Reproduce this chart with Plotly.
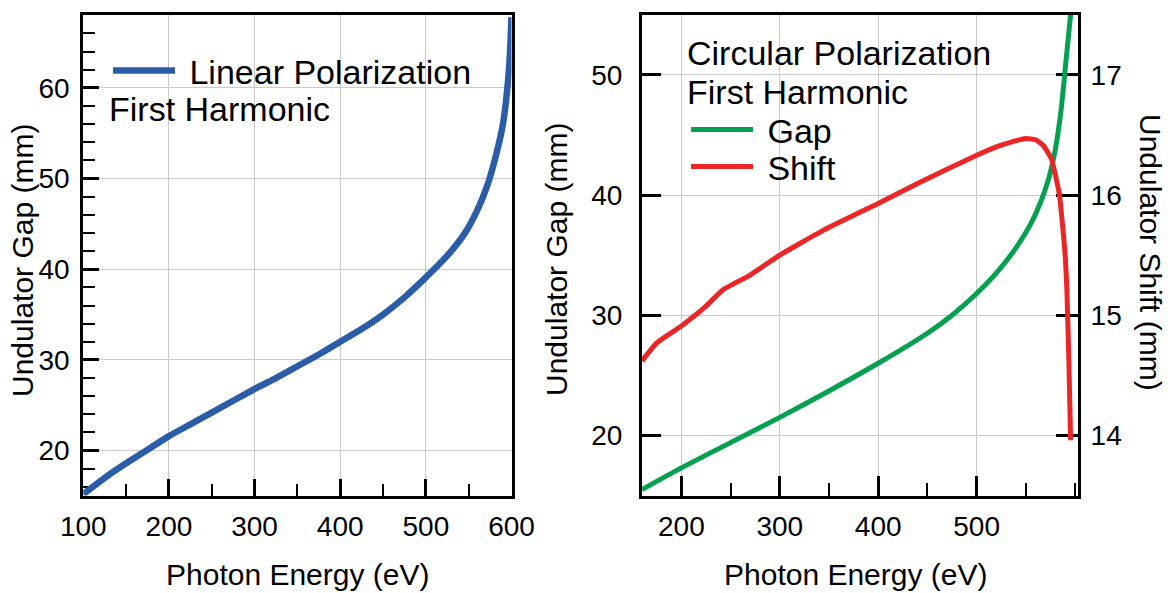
import plotly.graph_objects as go

# ---------------- data ----------------
lin_energy = [100, 125, 150, 175, 200, 225, 250, 275, 300, 325, 350, 375, 400, 425,
              450, 475, 500, 525, 545, 560, 572, 582, 590, 595, 598, 600]
lin_gap = [15.2, 17.0, 18.6, 20.1, 21.6, 22.9, 24.2, 25.5, 26.8, 28.0, 29.3, 30.6,
           32.0, 33.4, 35.0, 36.9, 39.1, 41.5, 43.9, 46.5, 49.3, 52.6, 56.0, 59.8,
           63.5, 67.8]

circ_gap_energy = [160, 200, 250, 300, 350, 400, 450, 475, 500, 520, 540, 555, 565,
                   573, 580, 586, 590, 595.5]
circ_gap = [15.5, 17.3, 19.4, 21.5, 23.7, 26.0, 28.5, 30.0, 31.8, 33.5, 35.6, 37.6,
            39.4, 41.3, 43.8, 47.2, 50.5, 55.0]

circ_shift_energy = [160, 175, 200, 223, 242, 269, 300, 345, 400, 441, 479, 500,
                     520, 535, 550, 560, 568, 576, 584, 589.6, 591.7, 593.6, 595.5]
circ_shift = [14.62, 14.77, 14.91, 15.06, 15.21, 15.33, 15.50, 15.71, 15.93, 16.10,
              16.25, 16.33, 16.40, 16.44, 16.47, 16.46, 16.41, 16.30, 16.01, 15.54,
              15.21, 14.66, 13.96]

x_ticks_left = [100, 200, 300, 400, 500, 600]
x_ticks_right = [200, 300, 400, 500]
gap_ticks_left = [20, 30, 40, 50, 60]
gap_ticks_right = [20, 30, 40, 50]
shift_ticks = [14, 15, 16, 17]

BLUE = "#2a5ca8"
GREEN = "#03a04f"
RED = "#ec2527"
GRID = "#c9c9c9"
FONT = "Liberation Sans, Arial, Helvetica, sans-serif"

W, H = 1168, 593

def px_x(p):
    return p / W

def px_y(p):
    return 1 - p / H

LEG_SIZE = 34
NB = "\u00a0"

fig = go.Figure()

fig.add_trace(go.Scatter(
    x=lin_energy, y=lin_gap, mode="lines", name=NB + "Linear Polarization",
    line=dict(color=BLUE, width=6.5, shape="spline", smoothing=0.5),
    xaxis="x", yaxis="y", legend="legend"))

fig.add_trace(go.Scatter(
    x=circ_gap_energy, y=circ_gap, mode="lines", name=NB + "Gap",
    line=dict(color=GREEN, width=5, shape="spline", smoothing=0.5),
    xaxis="x2", yaxis="y2", legend="legend2"))

fig.add_trace(go.Scatter(
    x=circ_shift_energy, y=circ_shift, mode="lines", name=NB + "Shift",
    line=dict(color=RED, width=5, shape="spline", smoothing=0.4),
    xaxis="x2", yaxis="y3", legend="legend3"))

tickfont = dict(family=FONT, size=28, color="black")
common = dict(showline=True, linewidth=3, linecolor="black", ticks="inside",
              tickcolor="black", tickwidth=3, showgrid=True, gridcolor=GRID,
              gridwidth=1, zeroline=False, tickfont=tickfont, layer="below traces",
              fixedrange=True, automargin=False)

y_dom = [px_y(495.5), px_y(14.7)]

def leg(x, y):
    return dict(x=px_x(x), y=px_y(y), xanchor="left", yanchor="top",
                bgcolor="rgba(0,0,0,0)", borderwidth=0, itemwidth=62,
                font=dict(family=FONT, size=LEG_SIZE, color="black"),
                tracegroupgap=0)

fig.update_layout(
    width=W, height=H, autosize=False,
    margin=dict(l=0, r=0, t=0, b=0, autoexpand=False),
    paper_bgcolor="white", plot_bgcolor="white",
    font=dict(family=FONT, color="black"),
    xaxis=dict(domain=[px_x(83.3), px_x(511.5)], range=[100, 600],
               tickvals=x_ticks_left, ticklen=17, mirror=True,
               minor=dict(dtick=50, tick0=0, ticklen=12, tickwidth=2, ticks="inside",
                          tickcolor="black", showgrid=False),
               ticklabelstandoff=4, anchor="y", **common),
    yaxis=dict(domain=y_dom, range=[15.05, 68.07], tickvals=gap_ticks_left,
               ticklen=16, mirror=True,
               minor=dict(dtick=2, tick0=0, ticklen=12, tickwidth=2, ticks="inside",
                          tickcolor="black", showgrid=False),
               ticklabelstandoff=5, anchor="x", **common),
    xaxis2=dict(domain=[px_x(642), px_x(1078)], range=[160, 603],
                tickvals=x_ticks_right, ticklen=20, mirror=True,
                minor=dict(dtick=50, tick0=0, ticklen=13, tickwidth=2, ticks="inside",
                           tickcolor="black", showgrid=False),
                ticklabelstandoff=4, anchor="y2", **common),
    yaxis2=dict(domain=y_dom, range=[15, 55], tickvals=gap_ticks_right,
                ticklen=19, mirror=True, ticklabelstandoff=11, anchor="x2", **common),
    yaxis3=dict(range=[13.5, 17.5], tickvals=shift_ticks, overlaying="y2",
                side="right", anchor="x2", showline=True, linewidth=3,
                linecolor="black", ticks="inside", tickcolor="black", tickwidth=3,
                ticklen=22, showgrid=False, zeroline=False, tickfont=tickfont,
                ticklabelstandoff=4, layer="below traces", fixedrange=True,
                automargin=False),
    legend=leg(108, 42),
    legend2=leg(686, 101),
    legend3=leg(686, 138),
    showlegend=True,
)

title_font = dict(family=FONT, size=30, color="black")
legend_font = dict(family=FONT, size=LEG_SIZE, color="black")
annotations = [
    dict(text="First Harmonic", x=px_x(107), y=px_y(109), xanchor="left",
         yanchor="middle", font=legend_font),
    dict(text="Circular Polarization", x=px_x(685), y=px_y(53), xanchor="left",
         yanchor="middle", font=legend_font),
    dict(text="First Harmonic", x=px_x(685), y=px_y(92), xanchor="left",
         yanchor="middle", font=legend_font),
    dict(text="Undulator Gap (mm)", x=px_x(22), y=px_y(261), textangle=-90,
         xanchor="center", yanchor="middle", font=title_font),
    dict(text="Undulator Gap (mm)", x=px_x(556), y=px_y(260), textangle=-90,
         xanchor="center", yanchor="middle", font=title_font),
    dict(text="Undulator Shift (mm)", x=px_x(1151), y=px_y(252), textangle=90,
         xanchor="center", yanchor="middle", font=title_font),
    dict(text="Photon Energy (eV)", x=px_x(297), y=0,
         xanchor="center", yanchor="bottom", font=title_font),
    dict(text="Photon Energy (eV)", x=px_x(855), y=0,
         xanchor="center", yanchor="bottom", font=title_font),
]
for a in annotations:
    a.update(xref="paper", yref="paper", showarrow=False)
fig.update_layout(annotations=annotations)

fig.write_html("out.html")
